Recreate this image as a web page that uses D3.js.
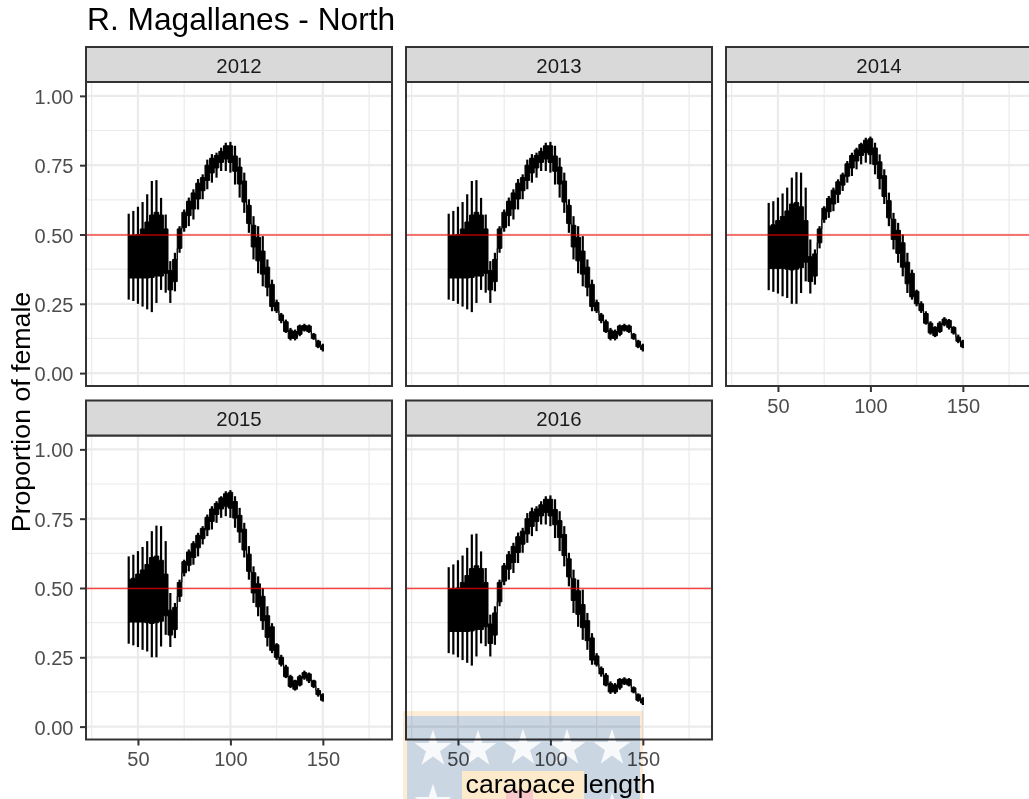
<!DOCTYPE html>
<html>
<head>
<meta charset="utf-8">
<script src="https://cdn.jsdelivr.net/npm/d3@7"></script>
<style>
  html, body { margin: 0; padding: 0; background: #fff; overflow: hidden; }
  svg { display: block; font-family: "Liberation Sans", Arial, sans-serif; }
</style>
</head>
<body>
<div id="chart"></div>
<script>
// values
const years = [2012, 2013, 2014, 2015, 2016];
const lengths = [45,47.5,50,52.5,55,57.5,60,62.5,65,67.5,70,72.5,75,77.5,80,82.5,85,87.5,90,92.5,95,97.5,100,102.5,105,107.5,110,112.5,115,117.5,120,122.5,125,127.5,130,132.5,135,137.5,140,142.5,145,147.5,150];

// 2012, 2013 and 2016 are nearly the same curve
const lowA = [.265,.26,.25,.24,.23,.22,.253,.30,.29,.253,.295,.434,.51,.53,.554,.59,.627,.663,.687,.705,.729,.729,.723,.68,.633,.578,.506,.41,.36,.313,.277,.223,.217,.18,.145,.118,.118,.133,.15,.145,.12,.09,.078];
const highA = [.575,.585,.60,.617,.645,.693,.696,.632,.572,.404,.434,.53,.59,.633,.663,.70,.717,.77,.79,.795,.813,.831,.834,.82,.777,.723,.627,.566,.53,.494,.41,.337,.265,.217,.193,.163,.157,.175,.178,.175,.145,.12,.106];
const innerLowA = [.343,.343,.343,.343,.343,.345,.35,.35,.36,.30,.33,.45,.525,.568,.592,.628,.658,.695,.722,.74,.76,.772,.76,.728,.682,.617,.54,.455,.405,.357,.31,.24,.225,.19,.15,.125,.125,.14,.155,.15,.125,.095,.085];
const innerHighA = [.497,.497,.50,.52,.545,.57,.58,.57,.52,.37,.41,.52,.58,.62,.65,.685,.705,.75,.775,.785,.80,.82,.82,.783,.743,.693,.605,.533,.49,.44,.382,.32,.255,.21,.185,.155,.15,.17,.172,.17,.14,.115,.10];

// 2014 and 2015 sit a little higher
const lowB = [.299,.293,.287,.277,.271,.25,.25,.289,.331,.287,.319,.45,.542,.56,.584,.614,.657,.687,.711,.735,.753,.759,.753,.717,.663,.61,.53,.446,.398,.349,.289,.265,.241,.217,.175,.139,.13,.145,.169,.157,.139,.108,.09];
const highB = [.614,.62,.633,.648,.669,.705,.725,.723,.669,.482,.446,.53,.602,.639,.669,.699,.723,.765,.795,.813,.831,.849,.853,.831,.789,.735,.651,.578,.542,.50,.434,.373,.301,.259,.223,.187,.169,.187,.202,.195,.169,.139,.12];
const innerLowB = [.377,.377,.377,.377,.375,.372,.375,.38,.40,.33,.35,.47,.555,.582,.61,.645,.678,.71,.74,.765,.785,.795,.788,.752,.702,.637,.56,.482,.432,.382,.322,.275,.25,.225,.18,.145,.135,.15,.175,.165,.145,.115,.095];
const innerHighB = [.53,.535,.55,.565,.585,.61,.615,.60,.55,.42,.43,.52,.595,.63,.66,.69,.715,.755,.785,.805,.825,.84,.845,.812,.762,.712,.622,.555,.515,.47,.40,.36,.295,.25,.215,.18,.165,.18,.195,.19,.165,.13,.115];

const curves = {
  2012: [lowA, highA, innerLowA, innerHighA],
  2013: [lowA, highA, innerLowA, innerHighA],
  2014: [lowB, highB, innerLowB, innerHighB],
  2015: [lowB, highB, innerLowB, innerHighB],
  2016: [lowA, highA, innerLowA, innerHighA]
};

const xMajor = [50, 100, 150];
const xMinor = [25, 75, 125, 175];
const yMajor = [0, .25, .5, .75, 1];
const yMinor = [.125, .375, .625, .875];
const refLine = 0.5;

const width = 1029, height = 799;
const panelW = 306, panelH = 304, stripH = 35;
const colX = [86, 406, 726], rowY = [82, 435.5];

const svg = d3.select("#chart").append("svg")
  .attr("width", width)
  .attr("height", height)
  .style("background", "#fff");

svg.append("text")
  .attr("x", 87).attr("y", 29.5)
  .attr("font-size", 31.7).attr("fill", "#000")
  .text("R. Magallanes - North");

years.forEach((year, i) => {
  const col = i % 3, row = Math.floor(i / 3);
  const x = d3.scaleLinear().domain([21.9, 187.4]).range([0, panelW]);
  const y = d3.scaleLinear().domain([-0.0465, 1.05]).range([panelH, 0]);
  const [low, high, innerLow, innerHigh] = curves[year];
  const g = svg.append("g").attr("transform", `translate(${colX[col]},${rowY[row]})`);

  // grid
  g.selectAll(".minorX").data(xMinor).join("line")
    .attr("x1", d => x(d)).attr("x2", d => x(d)).attr("y1", 0).attr("y2", panelH)
    .attr("stroke", "#ebebeb").attr("stroke-width", 1.2);
  g.selectAll(".minorY").data(yMinor).join("line")
    .attr("y1", d => y(d)).attr("y2", d => y(d)).attr("x1", 0).attr("x2", panelW)
    .attr("stroke", "#ebebeb").attr("stroke-width", 1.2);
  g.selectAll(".majorX").data(xMajor).join("line")
    .attr("x1", d => x(d)).attr("x2", d => x(d)).attr("y1", 0).attr("y2", panelH)
    .attr("stroke", "#ebebeb").attr("stroke-width", 2.2);
  g.selectAll(".majorY").data(yMajor).join("line")
    .attr("y1", d => y(d)).attr("y2", d => y(d)).attr("x1", 0).attr("x2", panelW)
    .attr("stroke", "#ebebeb").attr("stroke-width", 2.2);

  // thin outer bars
  g.append("g").attr("stroke", "#000").attr("stroke-width", 2.2)
    .selectAll("line").data(lengths).join("line")
    .attr("x1", d => x(d)).attr("x2", d => x(d))
    .attr("y1", (d, j) => y(low[j])).attr("y2", (d, j) => y(high[j]));

  // solid inner band, stepped so it keeps the blocky edge
  const band = d3.area()
    .curve(d3.curveStep)
    .x(d => x(d))
    .y0((d, j) => y(innerLow[j]))
    .y1((d, j) => y(innerHigh[j]));
  g.append("path").attr("d", band(lengths))
    .attr("fill", "#000").attr("stroke", "#000").attr("stroke-width", 1);

  // reference line
  g.append("line")
    .attr("x1", 0).attr("x2", panelW)
    .attr("y1", y(refLine) + 0.5).attr("y2", y(refLine) + 0.5)
    .attr("stroke", "#f00").attr("stroke-opacity", 0.7).attr("stroke-width", 1.5);

  // panel border and strip
  g.append("rect").attr("width", panelW).attr("height", panelH)
    .attr("fill", "none").attr("stroke", "#333").attr("stroke-width", 2);
  g.append("rect").attr("y", -stripH).attr("width", panelW).attr("height", stripH)
    .attr("fill", "#d9d9d9").attr("stroke", "#333").attr("stroke-width", 2);
  g.append("text")
    .attr("x", panelW / 2).attr("y", -9.5)
    .attr("text-anchor", "middle").attr("font-size", 20.4).attr("fill", "#1a1a1a")
    .text(year);

  // axes only on the outer panels
  if (col === 0) {
    const ax = g.append("g").call(d3.axisLeft(y).tickValues(yMajor).tickFormat(d3.format(".2f")).tickSize(6).tickPadding(6.5));
    ax.select(".domain").remove();
    ax.selectAll("line").attr("stroke", "#333").attr("stroke-width", 2);
    ax.selectAll("text").attr("font-size", 20).attr("fill", "#4d4d4d").attr("font-family", "Liberation Sans").attr("dy", ".38em");
  }
  if (i + 3 >= years.length) {
    const ax = g.append("g").attr("transform", `translate(0,${panelH})`)
      .call(d3.axisBottom(x).tickValues(xMajor).tickSize(6).tickPadding(6.5));
    ax.select(".domain").remove();
    ax.selectAll("line").attr("stroke", "#333").attr("stroke-width", 2);
    ax.selectAll("text").attr("font-size", 20).attr("fill", "#4d4d4d").attr("font-family", "Liberation Sans");
  }
});

// axis titles
svg.append("text")
  .attr("transform", "translate(30,412) rotate(-90)")
  .attr("text-anchor", "middle").attr("font-size", 26.7).attr("fill", "#000")
  .text("Proportion of female");
svg.append("text")
  .attr("x", 560.5).attr("y", 793)
  .attr("text-anchor", "middle").attr("font-size", 26.7).attr("fill", "#000")
  .text("carapace length");

// faded flag logo laid over the bottom of the chart
const logo = svg.append("g").style("mix-blend-mode", "multiply");
logo.append("rect").attr("x", 403).attr("y", 711).attr("width", 240).attr("height", 88).attr("fill", "#fdecd6");
logo.append("rect").attr("x", 407).attr("y", 716).attr("width", 233).attr("height", 83).attr("fill", "#cbd6e3");
const star = d3.symbol().type(d3.symbolStar).size(420);
[[433,749],[478,749],[523,748],[567,748],[612,748],[433,803],[612,812]].forEach(([sx, sy]) => {
  logo.append("path").attr("d", star()).attr("transform", `translate(${sx},${sy})`).attr("fill", "#f8f9fb");
});
logo.append("rect").attr("x", 462).attr("y", 771).attr("width", 122).attr("height", 28).attr("fill", "#fdeacb");
logo.append("rect").attr("x", 506).attr("y", 790).attr("width", 27).attr("height", 9).attr("fill", "#f6c6c8");
</script>
</body>
</html>
